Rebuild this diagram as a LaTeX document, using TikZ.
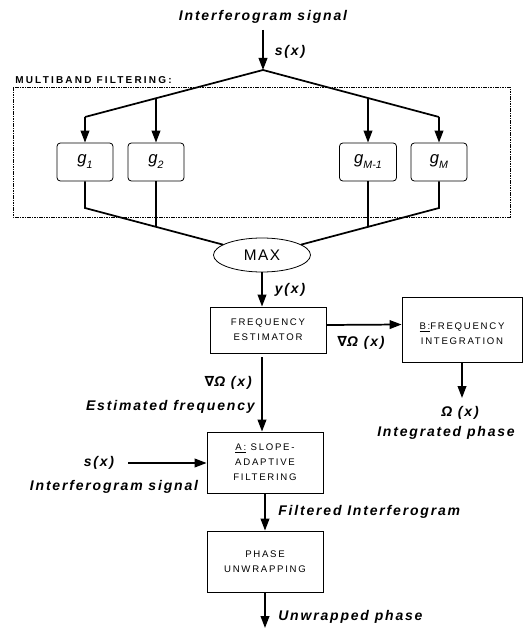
\documentclass[tikz,border=0pt]{standalone}
\usepackage{fontspec}
\setmainfont{Liberation Sans}
\newfontfamily\lbf[LetterSpace=13]{Liberation Sans}
\newfontfamily\bxf[LetterSpace=18]{Liberation Sans}
\newfontfamily\mxf[LetterSpace=10]{Liberation Sans}
\newfontfamily\mbf[LetterSpace=22]{Liberation Sans}
\newfontfamily\djv{DejaVu Sans}
\usetikzlibrary{shapes.geometric,arrows.meta}
\newcommand\gsb[1]{\raisebox{-0.3em}{\fontsize{8}{9}\selectfont #1}}
\newcommand\nab{{\djv ∇}}
\tikzset{
  lbl/.style={font=\lbf\bfseries\itshape\fontsize{10.5}{12}\selectfont, inner sep=0pt},
  blk/.style={draw, line width=0.6pt, font=\bxf\fontsize{7.2}{11.25}\selectfont, align=center, inner sep=0pt},
  gbox/.style={draw, rounded corners=2.5pt, line width=0.6pt, minimum width=42pt, minimum height=28.5pt, inner sep=0pt, font=\itshape\fontsize{12.5}{13}\selectfont},
  conn/.style={line width=1.3pt},
  arr/.style={conn, -{Triangle[length=9pt,width=6.5pt]}}
}
\begin{document}
\begin{tikzpicture}[x=0.75pt,y=-0.75pt]
\useasboundingbox (0,0) rectangle (525,630);
% multiband filtering frame
\draw[line width=0.4pt, dash pattern=on 1.2pt off 0.6pt] (13,87) rectangle (510,217);
\node[anchor=west, inner sep=0pt, font=\mbf\bfseries\fontsize{7.5}{9}\selectfont] (mbt) at (15,80) {MULTIBAND FILTERING:};
% top input
\node[lbl] (tin) at (263,17) {Interferogram signal};
\coordinate (tin0) at (263,30);
\coordinate (apex) at (263,70);
\draw[arr] (tin0) -- (apex);
\node[lbl] (sx1) at (290,52) {s(x)};
% filters
\node[gbox] (g1) at (85,162) {g\gsb{1}};
\node[gbox] (g2) at (156,162) {g\gsb{2}};
\node[gbox, minimum width=42.75pt] (gm1) at (368,162) {g\gsb{M-1}};
\node[gbox] (gm) at (439,162) {g\gsb{M}};
\coordinate (bl) at (85,117);
\coordinate (br) at (439,117);
\coordinate (j2) at (156,98.3);
\coordinate (j3) at (368,98.0);
\draw[conn] (bl) -- (apex) -- (br);
\draw[arr] (bl) -- (g1);
\draw[arr] (j2) -- (g2);
\draw[arr] (j3) -- (gm1);
\draw[arr] (br) -- (gm);
% MAX
\node[draw, ellipse, line width=0.6pt, minimum width=72.75pt, minimum height=25.5pt, inner sep=0pt, font=\mxf\fontsize{11.5}{12}\selectfont] (max) at (262,255) {MAX};
\coordinate (d1) at (85,208);
\coordinate (d4) at (439,208);
\coordinate (k2) at (156,226.9);
\coordinate (k3) at (368,226.9);
\draw[conn] (g1) -- (d1) -- (max);
\draw[conn] (gm) -- (d4) -- (max);
\draw[conn] (g2) -- (k2);
\draw[conn] (gm1) -- (k3);
% frequency estimator
\node[blk, minimum width=87pt, minimum height=34.5pt] (fe) at (268,330) {FREQUENCY\\ESTIMATOR};
\draw[arr] (max.south) -- (max.south |- fe.north);
\node[lbl] (yx) at (290,290) {y(x)};
% B box
\node[blk, minimum width=90pt, minimum height=48.75pt, text height=23.5pt, text depth=0.5pt] (bb) at (462,329.5) {\underline{B:}FREQUENCY\\INTEGRATION};
\draw[arr] ([yshift=3.75pt]fe.east) -- ([yshift=3.75pt]bb.west);
\node[lbl] (go1) at (361,343) {\nab Ω (x)};
\coordinate (bout) at (462,398);
\draw[arr] (bb.south) -- (bout);
\node[lbl] (om) at (460,413) {Ω (x)};
\node[lbl] (ip) at (446,433) {Integrated phase};
% A box
\node[blk, minimum width=87pt, minimum height=45.75pt] (ab) at (265,462.5) {\underline{A:} SLOPE-\\ADAPTIVE\\FILTERING};
\coordinate (fes) at (262,357);
\draw[arr] (fes) -- (fes |- ab.north);
\node[lbl, anchor=east] (go2) at (252,383) {\nab Ω (x)};
\node[lbl, anchor=east] (ef) at (255,407) {Estimated frequency};
\coordinate (sin) at (128,463);
\draw[arr] (sin) -- (sin -| ab.west);
\node[lbl] (sx2) at (99,463) {s(x)};
\node[lbl] (is2) at (114,487) {Interferogram signal};
% phase unwrapping
\node[blk, minimum width=87pt, minimum height=45.75pt] (pu) at (265,561.5) {PHASE\\UNWRAPPING};
\draw[arr] (ab.south) -- (pu.north);
\node[lbl, anchor=west] (fi) at (278,512) {Filtered Interferogram};
\coordinate (out) at (265,628);
\draw[arr] (pu.south) -- (out);
\node[lbl, anchor=west] (uw) at (278,617) {Unwrapped phase};
\end{tikzpicture}
\end{document}
